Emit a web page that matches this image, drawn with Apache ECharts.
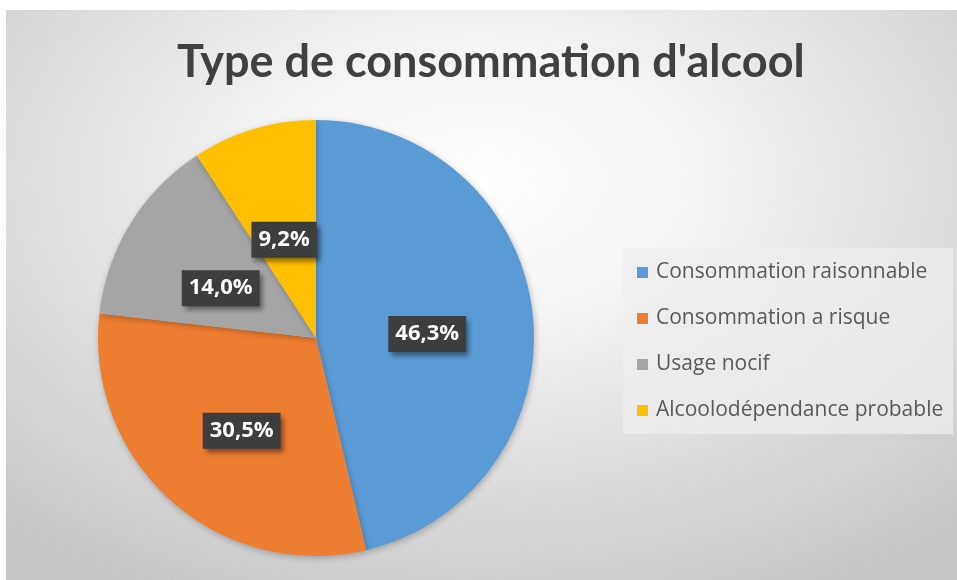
<!DOCTYPE html>
<html>
<head>
<meta charset="utf-8">
<script src="https://cdn.jsdelivr.net/npm/echarts@6/dist/echarts.min.js"></script>
<style>
  html, body { margin: 0; padding: 0; background: #ffffff; }
  #main {
    position: absolute; left: 6px; top: 10px; width: 951px; height: 570px;
    background: radial-gradient(ellipse 75% 80% at 50% 30%, #ffffff 0%, #f4f4f4 30%, #dadada 70%, #c6c6c6 100%);
  }
</style>
</head>
<body>
<div id="main"></div>
<script>
var titleText = "Type de consommation d'alcool";
var categories = ['Consommation raisonnable', 'Consommation a risque', 'Usage nocif', 'Alcoolodépendance probable'];
var values = [46.3, 30.5, 14.0, 9.2];
var colors = ['#5b9bd5', '#ed7d31', '#a5a5a5', '#ffc000'];

var chart = echarts.init(document.getElementById('main'));

var data = categories.map(function (name, i) {
  return { name: name, value: values[i] };
});

var option = {
  backgroundColor: 'transparent',
  color: colors,
  animation: false,
  title: {
    text: titleText,
    left: 166,
    top: 25,
    textStyle: {
      color: '#404040',
      fontFamily: 'Lato',
      fontWeight: 'bold',
      fontSize: 45
    }
  },
  legend: {
    orient: 'vertical',
    left: 617,
    top: 238,
    padding: [14, 10, 13, 14],
    backgroundColor: 'rgba(238,238,238,0.75)',
    icon: 'rect',
    itemWidth: 11,
    itemHeight: 11,
    itemGap: 25,
    textStyle: {
      color: '#595959',
      fontFamily: 'Open Sans',
      fontSize: 21,
      lineHeight: 20,
      padding: [0, 0, 0, 3]
    },
    data: categories
  },
  series: [{
    type: 'pie',
    center: [310, 328],
    radius: 218,
    startAngle: 90,
    clockwise: true,
    itemStyle: {
      borderWidth: 0,
      shadowColor: 'rgba(0,0,0,0.25)',
      shadowBlur: 6,
      shadowOffsetX: 1,
      shadowOffsetY: 2
    },
    label: {
      show: true,
      position: 'inside',
      formatter: function (p) {
        return p.value.toFixed(1).replace('.', ',') + '%';
      },
      color: '#ffffff',
      fontFamily: 'Open Sans',
      fontWeight: 'bold',
      fontSize: 22,
      lineHeight: 24,
      backgroundColor: '#3d3d3d',
      padding: [7, 7, 5, 7],
      shadowColor: 'rgba(0,0,0,0.45)',
      shadowBlur: 5,
      shadowOffsetX: 3,
      shadowOffsetY: 4
    },
    labelLayout: { dy: 9 },
    labelLine: { show: false },
    emphasis: { disabled: true },
    data: data
  }]
};

chart.setOption(option);
</script>
</body>
</html>
